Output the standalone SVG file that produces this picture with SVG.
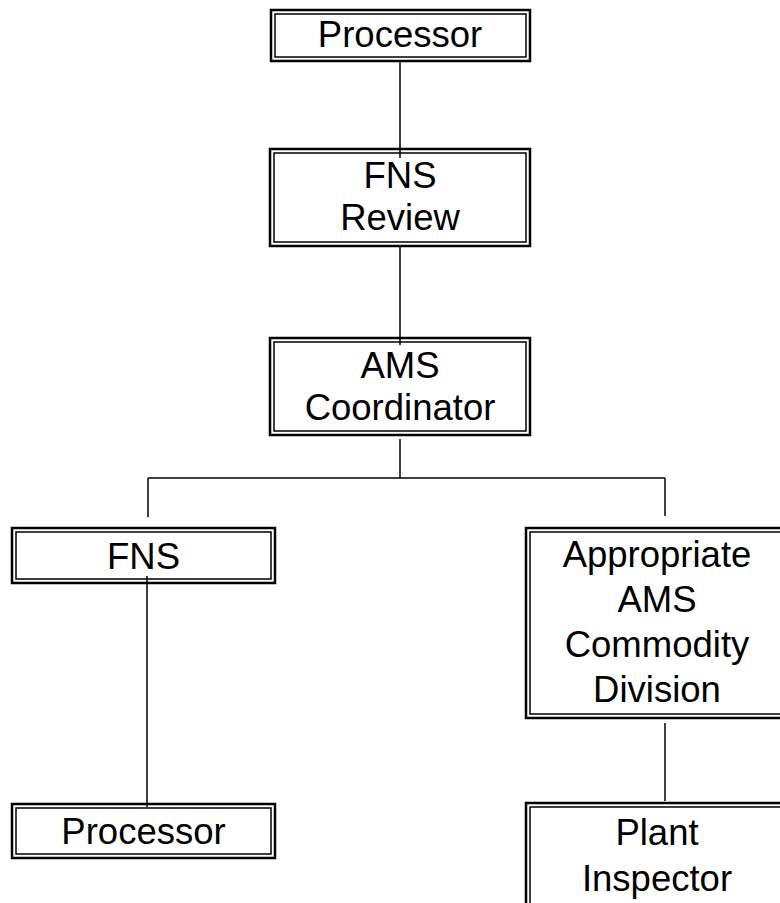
<svg xmlns="http://www.w3.org/2000/svg" width="780" height="903" viewBox="0 0 780 903">
<style>
.outer{fill:#fff;stroke:#000;stroke-width:2.5}
.inner{fill:none;stroke:#000;stroke-width:1.5}
.t{font-family:"Liberation Sans",Arial,sans-serif;font-size:36.5px;fill:#000;text-anchor:middle}
.c{fill:none;stroke:#000;stroke-width:1.5}
</style>
<rect width="780" height="903" fill="#fff"/>
<g id="processor-top">
<rect class="outer" x="271" y="10" width="259" height="51"/>
<rect class="inner" x="275" y="14" width="251" height="43"/>
<text class="t" x="400" y="47">Processor</text>
</g>
<g id="fns-review">
<rect class="outer" x="270" y="149" width="260" height="97"/>
<rect class="inner" x="274" y="153" width="252" height="89"/>
<text class="t" x="400" y="188">FNS</text>
<text class="t" x="400" y="230">Review</text>
</g>
<g id="ams-coordinator">
<rect class="outer" x="270" y="338" width="260" height="97"/>
<rect class="inner" x="274" y="342" width="252" height="89"/>
<text class="t" x="400" y="378">AMS</text>
<text class="t" x="400" y="420">Coordinator</text>
</g>
<g id="fns">
<rect class="outer" x="12" y="528" width="263" height="55"/>
<rect class="inner" x="16" y="532" width="255" height="47"/>
<text class="t" x="143.5" y="569">FNS</text>
</g>
<g id="commodity-division">
<rect class="outer" x="526" y="528" width="262" height="190"/>
<rect class="inner" x="530" y="532" width="254" height="182"/>
<text class="t" x="657" y="567">Appropriate</text>
<text class="t" x="657" y="612">AMS</text>
<text class="t" x="657" y="657">Commodity</text>
<text class="t" x="657" y="702">Division</text>
</g>
<g id="processor-bottom">
<rect class="outer" x="12" y="804" width="263" height="54"/>
<rect class="inner" x="16" y="808" width="255" height="46"/>
<text class="t" x="143.5" y="844">Processor</text>
</g>
<g id="plant-inspector">
<rect class="outer" x="526" y="803" width="262" height="110"/>
<rect class="inner" x="530" y="807" width="254" height="102"/>
<text class="t" x="657" y="845">Plant</text>
<text class="t" x="657" y="891">Inspector</text>
</g>
<g id="connectors">
<line class="c" x1="400" y1="61" x2="400" y2="158"/>
<line class="c" x1="400" y1="247" x2="400" y2="345"/>
<line class="c" x1="400" y1="439" x2="400" y2="478"/>
<line class="c" x1="148" y1="478" x2="665" y2="478"/>
<line class="c" x1="148" y1="478" x2="148" y2="517"/>
<line class="c" x1="665" y1="478" x2="665" y2="516"/>
<line class="c" x1="147" y1="576" x2="147" y2="807"/>
<line class="c" x1="665" y1="723" x2="665" y2="801"/>
</g>
</svg>
